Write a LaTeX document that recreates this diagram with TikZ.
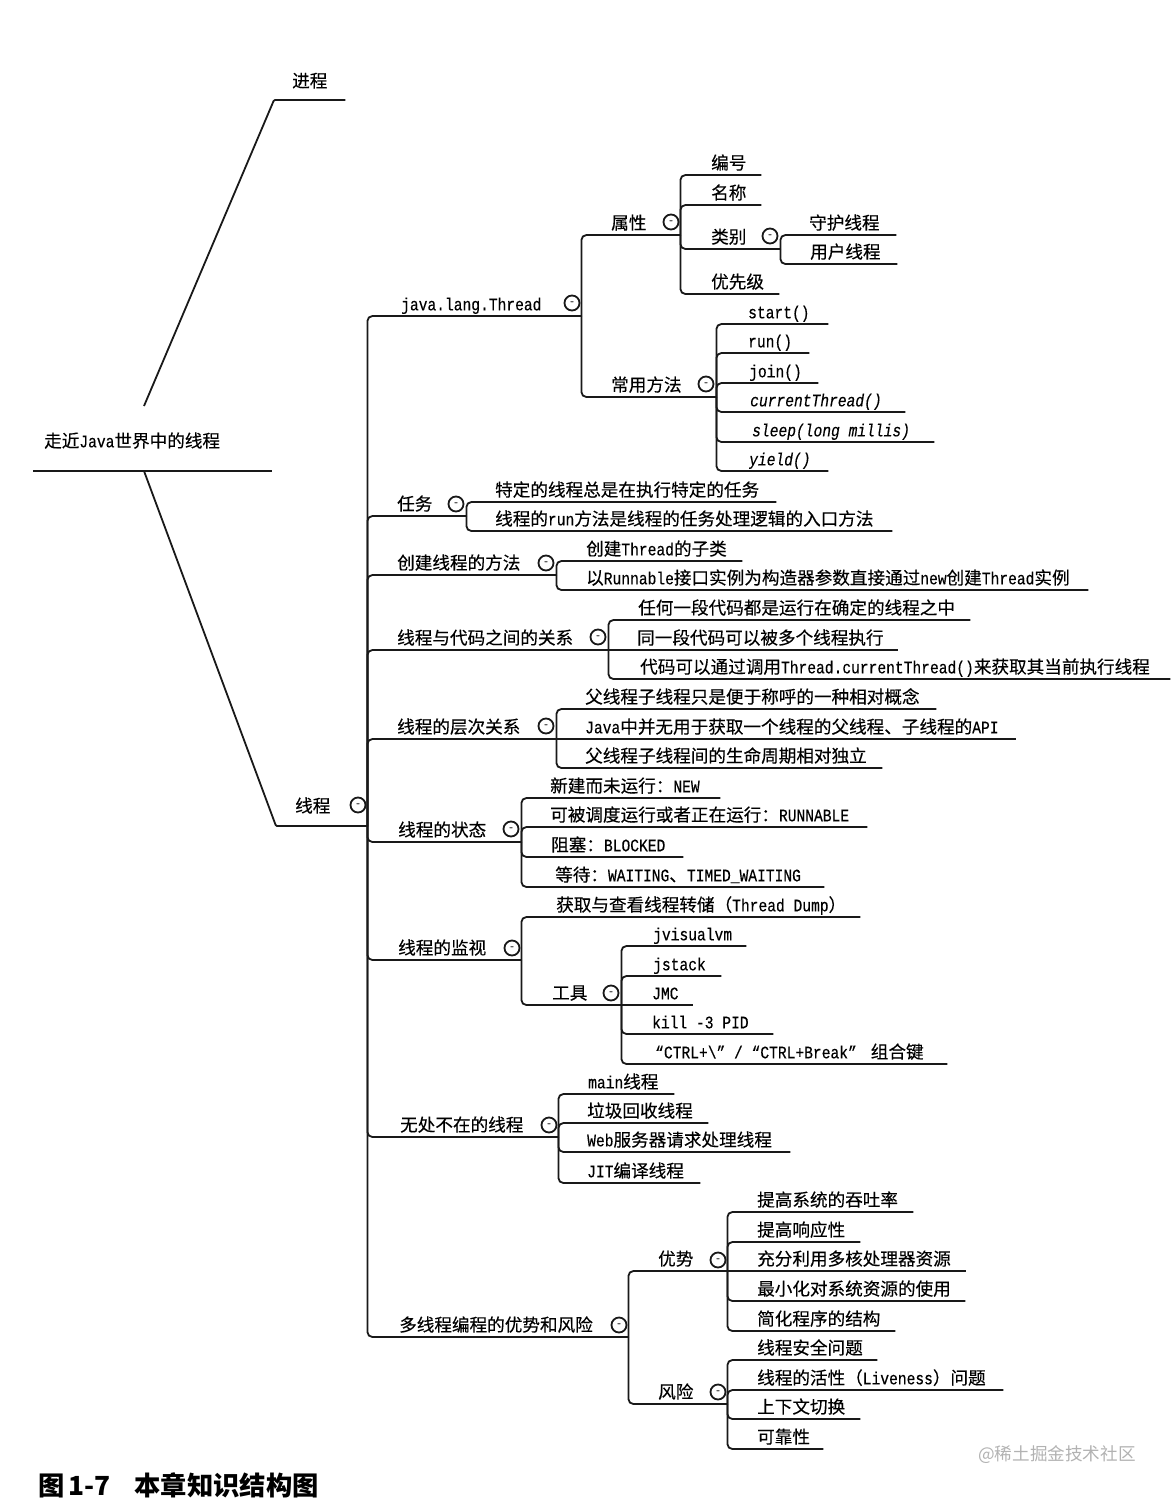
\documentclass[tikz,border=0pt]{standalone}
\usepackage{fontspec}
\setmainfont{Noto Sans CJK SC}[FakeBold=0.3]
\setmonofont{Liberation Mono}[FakeStretch=0.83,FakeBold=0.3]
\newfontfamily\capfont{Noto Sans CJK SC}
\newcommand{\topic}[7][]{%
	\pgfmathsetmacro\topicw{#4-#3}%
	\pgfmathsetmacro\topici{#6-#3}%
	\node[topic,#1] (#2) at (#3,#5) {\makebox[\topicw pt][l]{\hspace*{\topici pt}#7}};
}
\newcommand{\fold}[3]{\node[foldmark] (#1) at (#2,#3) {-};}
\begin{document}
\begin{tikzpicture}[
		x=1pt,y=-1pt,
		every node/.style={
				font=\fontsize{17.6}{20}\selectfont,
			},
		topic/.style={
				anchor=south west,inner sep=0pt,text height=16pt,text depth=5.5pt,
			},
		branch/.style={
				line width=1.8pt,color=black!90,rounded corners=5pt,
			},
		foldmark/.style={
				circle,draw,line width=1.8pt,color=black!90,minimum size=15pt,inner sep=0pt,
				font=\fontsize{11}{11}\selectfont,
			},]
	\useasboundingbox (0,0) rectangle (1173,1500);

	\topic[text depth=23.5pt]{root}{33}{272}{471}{44}{走近\texttt{Java}世界中的线程}
	\topic[text depth=12.5pt]{proc}{274}{345}{100}{292}{进程}
	\topic[text depth=13.5pt]{thrd}{276}{367}{826}{295}{线程}
	\fold{thrdf}{358}{805}
	\coordinate (rootup) at (144,406);
	\coordinate (rootdn) at (144,471);
	\draw[branch] (root.south west) -- (root.south east);
	\draw[branch,rounded corners=1pt] (rootup) -- (proc.south west) -- (proc.south east);
	\draw[branch,rounded corners=1pt] (rootdn) -- (thrd.south west) -- (thrd.south east);

	% second level
	\topic{jlt}{367}{581}{316}{401}{\texttt{java.lang.Thread}}
	\topic{task}{367}{466}{516}{397}{任务}
	\topic{make}{367}{556}{575}{397}{创建线程的方法}
	\topic{code}{367}{608}{650}{397}{线程与代码之间的关系}
	\topic{tree}{367}{556}{739}{397}{线程的层次关系}
	\topic{state}{367}{521}{842}{398}{线程的状态}
	\topic{watch}{367}{521}{960}{398}{线程的监视}
	\topic{every}{367}{558}{1137}{400}{无处不在的线程}
	\topic{gain}{367}{628}{1337}{399}{多线程编程的优势和风险}
	\fold{jltf}{572}{303}
	\fold{taskf}{456}{504}
	\fold{makef}{546}{563}
	\fold{codef}{598}{637}
	\fold{treef}{546}{726}
	\fold{statef}{511}{829}
	\fold{watchf}{512}{948}
	\fold{everyf}{549}{1125}
	\fold{gainf}{619}{1325}
	\foreach \kid in {jlt,task,make,code,tree,state,watch,every,gain} {
			\draw[branch] (thrd.south east) |- (\kid.south east);
		}

	% java.lang.Thread
	\topic{attr}{581}{680}{235}{611}{属性}
	\topic{meth}{581}{716}{397}{611}{常用方法}
	\fold{attrf}{671}{222}
	\fold{methf}{706}{384}
	\foreach \kid in {attr,meth} {
			\draw[branch] (jlt.south east) |- (\kid.south east);
		}
	\topic{num}{680}{761}{175}{711}{编号}
	\topic{name}{680}{761}{205}{711}{名称}
	\topic{kind}{680}{780}{249}{711}{类别}
	\topic{prio}{680}{779}{294}{711}{优先级}
	\fold{kindf}{770}{236}
	\foreach \kid in {num,name,kind,prio} {
			\draw[branch] (attr.south east) |- (\kid.south east);
		}
	\topic{daemon}{780}{896}{235}{809}{守护线程}
	\topic{user}{780}{897}{264}{810}{用户线程}
	\foreach \kid in {daemon,user} {
			\draw[branch] (kind.south east) |- (\kid.south east);
		}
	\topic{start}{716}{828}{324}{748}{\texttt{start()}}
	\topic{run}{716}{809}{353}{748}{\texttt{run()}}
	\topic{join}{716}{818}{383}{749}{\texttt{join()}}
	\topic{curr}{716}{905}{412}{750}{\texttt{\itshape currentThread()}}
	\topic{sleep}{716}{934}{442}{752}{\texttt{\itshape sleep(long millis)}}
	\topic{yield}{716}{828}{471}{749}{\texttt{\itshape yield()}}
	\foreach \kid in {start,run,join,curr,sleep,yield} {
			\draw[branch] (meth.south east) |- (\kid.south east);
		}

	% tasks, creation, code
	\topic{taska}{466}{776}{502}{495}{特定的线程总是在执行特定的任务}
	\topic{taskb}{466}{892}{531}{495}{线程的\texttt{run}方法是线程的任务处理逻辑的入口方法}
	\foreach \kid in {taska,taskb} {
			\draw[branch] (task.south east) |- (\kid.south east);
		}
	\topic{makea}{556}{742}{561}{586}{创建\texttt{Thread}的子类}
	\topic{makeb}{556}{1088}{590}{586}{以\texttt{Runnable}接口实例为构造器参数直接通过\texttt{new}创建\texttt{Thread}实例}
	\foreach \kid in {makea,makeb} {
			\draw[branch] (make.south east) |- (\kid.south east);
		}
	\topic{codea}{608}{970}{620}{638}{任何一段代码都是运行在确定的线程之中}
	\topic{codeb}{608}{898}{650}{637}{同一段代码可以被多个线程执行}
	\topic{codec}{608}{1170}{679}{640}{代码可以通过调用\texttt{Thread.currentThread()}来获取其当前执行线程}
	\foreach \kid in {codea,codec} {
			\draw[branch] (code.south east) |- (\kid.south east);
		}
	\draw[branch] (code.south east) -- (codeb.south east);

	% hierarchy, states
	\topic{treea}{556}{936}{709}{585}{父线程子线程只是便于称呼的一种相对概念}
	\topic{treeb}{556}{1016}{739}{585}{\texttt{Java}中并无用于获取一个线程的父线程、子线程的\texttt{API}}
	\topic{treec}{556}{882}{768}{585}{父线程子线程间的生命周期相对独立}
	\foreach \kid in {treea,treec} {
			\draw[branch] (tree.south east) |- (\kid.south east);
		}
	\draw[branch] (tree.south east) -- (treeb.south east);
	\topic{statea}{521}{720}{798}{550}{新建而未运行：\texttt{NEW}}
	\topic{stateb}{521}{867}{827}{550}{可被调度运行或者正在运行：\texttt{RUNNABLE}}
	\topic{statec}{521}{683}{857}{551}{阻塞：\texttt{BLOCKED}}
	\topic{stated}{521}{824}{887}{555}{等待：\texttt{WAITING}、\texttt{TIMED\_WAITING}}
	\foreach \kid in {statea,stateb,statec,stated} {
			\draw[branch] (state.south east) |- (\kid.south east);
		}

	% monitoring
	\topic{dump}{521}{860}{917}{556}{获取与查看线程转储（\texttt{Thread Dump}）}
	\topic{tool}{521}{621}{1005}{552}{工具}
	\fold{toolf}{611}{993}
	\foreach \kid in {dump,tool} {
			\draw[branch] (watch.south east) |- (\kid.south east);
		}
	\topic{jvis}{621}{746}{946}{653}{\texttt{jvisualvm}}
	\topic{jstack}{621}{721}{976}{653}{\texttt{jstack}}
	\topic{jmc}{621}{693}{1005}{652}{\texttt{JMC}}
	\topic{kill}{621}{773}{1034}{652}{\texttt{kill -3 PID}}
	\topic{ctrl}{621}{947}{1064}{655}{\texttt{“CTRL+\textbackslash” / “CTRL+Break”}\hspace{14pt}组合键}
	\foreach \kid in {jvis,jstack,kill,ctrl} {
			\draw[branch] (tool.south east) |- (\kid.south east);
		}
	\draw[branch] (tool.south east) -- (jmc.south east);

	% everywhere
	\topic{evea}{558}{674}{1094}{588}{\texttt{main}线程}
	\topic{eveb}{558}{708}{1123}{587}{垃圾回收线程}
	\topic{evec}{558}{790}{1152}{587}{\texttt{Web}服务器请求处理线程}
	\topic{eved}{558}{700}{1183}{587}{\texttt{JIT}编译线程}
	\foreach \kid in {evea,eveb,evec,eved} {
			\draw[branch] (every.south east) |- (\kid.south east);
		}

	% gains and risks
	\topic{plus}{628}{727}{1271}{658}{优势}
	\topic{risk}{628}{727}{1404}{658}{风险}
	\fold{plusf}{718}{1260}
	\fold{riskf}{718}{1392}
	\foreach \kid in {plus,risk} {
			\draw[branch] (gain.south east) |- (\kid.south east);
		}
	\topic{plusa}{727}{913}{1212}{757}{提高系统的吞吐率}
	\topic{plusb}{727}{860}{1242}{757}{提高响应性}
	\topic{plusc}{727}{966}{1271}{757}{充分利用多核处理器资源}
	\topic{plusd}{727}{965}{1301}{757}{最小化对系统资源的使用}
	\topic{pluse}{727}{895}{1331}{757}{简化程序的结构}
	\foreach \kid in {plusa,plusb,plusd,pluse} {
			\draw[branch] (plus.south east) |- (\kid.south east);
		}
	\draw[branch] (plus.south east) -- (plusc.south east);
	\topic{riska}{727}{877}{1360}{757}{线程安全问题}
	\topic{riskb}{727}{1003}{1390}{757}{线程的活性（\texttt{Liveness}）问题}
	\topic{riskc}{727}{860}{1419}{757}{上下文切换}
	\topic{riskd}{727}{823}{1449}{757}{可靠性}
	\foreach \kid in {riska,riskb,riskc,riskd} {
			\draw[branch] (risk.south east) |- (\kid.south east);
		}

	\node[anchor=west,inner sep=0pt,font=\fontsize{26.3}{30}\selectfont\capfont\bfseries] (caption) at (38,1485) {图\hspace{4pt}1-7\hspace{24pt}本章知识结构图};
	\node[anchor=west,inner sep=0pt,color=black!30,font=\fontsize{17.6}{20}\selectfont\capfont] (mark) at (978,1455) {@稀土掘金技术社区};
\end{tikzpicture}
\end{document}
